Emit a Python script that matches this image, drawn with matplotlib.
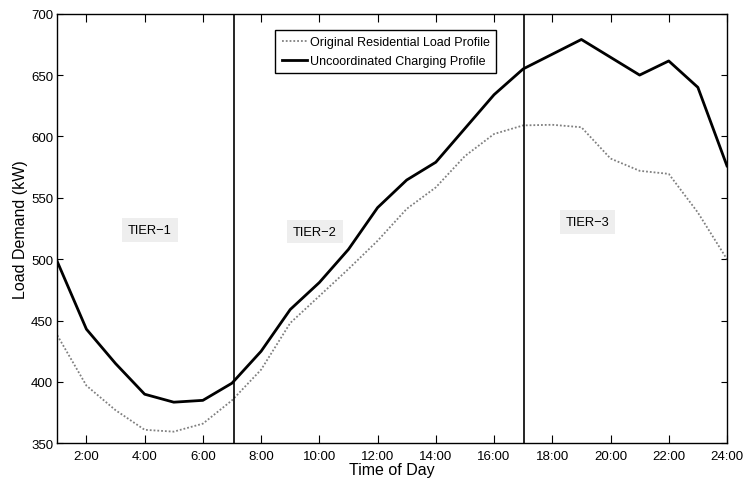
import matplotlib
matplotlib.use("Agg")
import matplotlib.pyplot as plt

plt.rcParams['font.family'] = ['Liberation Sans', 'DejaVu Sans']

hours = list(range(1, 25))
original_load = [438, 397, 377, 361, 359.5, 366, 385, 410, 448, 470, 492, 515,
                 541, 558.5, 584, 602, 609, 609.5, 607.5, 582, 572, 569.5, 538, 500]
uncoordinated = [498, 443, 415, 390, 383.5, 385, 399, 425, 459, 481, 508, 542,
                 564.5, 579, 606.5, 634, 655, 667, 679, 664.5, 650, 661.5, 640, 576]
tick_hours = list(range(2, 25, 2))
tick_labels = [f"{h}:00" for h in tick_hours]
y_ticks = [350, 400, 450, 500, 550, 600, 650, 700]
tier_bounds = [7.07, 17.03]
tier_labels = ["TIER\u22121", "TIER\u22122", "TIER\u22123"]
tier_pos = [(4.18, 524), (9.85, 522.5), (19.2, 530.5)]

fig = plt.figure(figsize=(7.46, 4.85), dpi=100)
ax = fig.add_axes([0.0768, 0.0839, 0.8977, 0.8858])

ax.plot(hours, original_load, color='0.5', lw=1.3, linestyle=(0, (1, 1.1)),
        label='Original Residential Load Profile')
ax.plot(hours, uncoordinated, color='black', lw=2.0,
        label='Uncoordinated Charging Profile')

for xb in tier_bounds:
    ax.axvline(xb, color='black', lw=1.2)

for lab, (tx, ty) in zip(tier_labels, tier_pos):
    ax.text(tx, ty, lab, ha='center', va='center', fontsize=9.3,
            bbox=dict(boxstyle='square,pad=0.45', fc='#eeeeee', ec='none'))

ax.set_xlim(1, 24)
ax.set_ylim(350, 700)
ax.set_xticks(tick_hours)
ax.set_xticklabels(tick_labels)
ax.set_yticks(y_ticks)
ax.tick_params(axis='x', direction='in', length=5.8, width=0.8, top=True,
               labelsize=9.5, pad=5)
ax.tick_params(axis='y', direction='in', length=4.1, width=0.8, right=True,
               labelsize=9.5, pad=3)
for s in ax.spines.values():
    s.set_linewidth(1.0)

ax.set_xlabel('Time of Day', fontsize=11.5, labelpad=0)
ax.set_ylabel('Load Demand (kW)', fontsize=11.5, labelpad=2)

leg = ax.legend(loc='upper center', bbox_to_anchor=(0.5172, 0.936),
                bbox_transform=fig.transFigure, fontsize=9, frameon=True,
                fancybox=False, edgecolor='black', framealpha=1,
                borderpad=0.5, handlelength=2.0, handletextpad=0.3,
                labelspacing=0.55, borderaxespad=0)
leg.get_frame().set_linewidth(1.0)

fig.savefig('out.png', dpi=100)
